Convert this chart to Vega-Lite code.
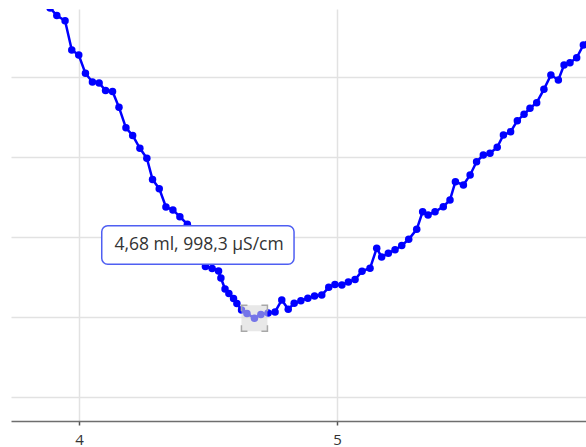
{
  "$schema": "https://vega.github.io/schema/vega-lite/v6.json",
  "autosize": {"type": "none"},
  "padding": {"left": 11, "top": 9, "right": 0, "bottom": 26},
  "width": 575,
  "height": 412,
  "background": "white",
  "config": {
    "view": {"stroke": null},
    "font": "Open Sans"
  },
  "datasets": {
    "titration": [
      {"ml": 3.888, "us": 1386.3},
      {"ml": 3.914, "us": 1376.9},
      {"ml": 3.946, "us": 1370.4},
      {"ml": 3.972, "us": 1333.8},
      {"ml": 3.999, "us": 1327.5},
      {"ml": 4.025, "us": 1304.6},
      {"ml": 4.052, "us": 1293.8},
      {"ml": 4.078, "us": 1292.5},
      {"ml": 4.103, "us": 1283.1},
      {"ml": 4.130, "us": 1281.9},
      {"ml": 4.155, "us": 1262.1},
      {"ml": 4.182, "us": 1236.5},
      {"ml": 4.208, "us": 1226.9},
      {"ml": 4.236, "us": 1210.9},
      {"ml": 4.263, "us": 1198.4},
      {"ml": 4.285, "us": 1171.9},
      {"ml": 4.311, "us": 1160.4},
      {"ml": 4.337, "us": 1137.5},
      {"ml": 4.364, "us": 1133.8},
      {"ml": 4.391, "us": 1125.4},
      {"ml": 4.420, "us": 1115.9},
      {"ml": 4.446, "us": 1098.8},
      {"ml": 4.469, "us": 1077.5},
      {"ml": 4.490, "us": 1063.1},
      {"ml": 4.516, "us": 1060.6},
      {"ml": 4.541, "us": 1057.5},
      {"ml": 4.550, "us": 1048.8},
      {"ml": 4.566, "us": 1035.0},
      {"ml": 4.581, "us": 1029.4},
      {"ml": 4.599, "us": 1023.1},
      {"ml": 4.612, "us": 1016.9},
      {"ml": 4.630, "us": 1008.8},
      {"ml": 4.651, "us": 1004.4},
      {"ml": 4.680, "us": 998.3},
      {"ml": 4.705, "us": 1003.1},
      {"ml": 4.733, "us": 1005.0},
      {"ml": 4.760, "us": 1006.3},
      {"ml": 4.786, "us": 1021.3},
      {"ml": 4.811, "us": 1009.6},
      {"ml": 4.834, "us": 1017.1},
      {"ml": 4.860, "us": 1020.4},
      {"ml": 4.887, "us": 1023.4},
      {"ml": 4.913, "us": 1026.3},
      {"ml": 4.941, "us": 1027.5},
      {"ml": 4.968, "us": 1037.1},
      {"ml": 4.992, "us": 1040.6},
      {"ml": 5.019, "us": 1040.0},
      {"ml": 5.044, "us": 1043.8},
      {"ml": 5.070, "us": 1046.9},
      {"ml": 5.097, "us": 1057.3},
      {"ml": 5.128, "us": 1060.9},
      {"ml": 5.154, "us": 1085.9},
      {"ml": 5.173, "us": 1075.0},
      {"ml": 5.199, "us": 1079.6},
      {"ml": 5.225, "us": 1084.1},
      {"ml": 5.251, "us": 1089.4},
      {"ml": 5.278, "us": 1097.1},
      {"ml": 5.309, "us": 1109.6},
      {"ml": 5.332, "us": 1131.6},
      {"ml": 5.353, "us": 1127.5},
      {"ml": 5.380, "us": 1131.6},
      {"ml": 5.412, "us": 1137.9},
      {"ml": 5.438, "us": 1146.3},
      {"ml": 5.459, "us": 1169.1},
      {"ml": 5.490, "us": 1165.0},
      {"ml": 5.516, "us": 1177.5},
      {"ml": 5.541, "us": 1194.1},
      {"ml": 5.567, "us": 1202.5},
      {"ml": 5.593, "us": 1204.6},
      {"ml": 5.621, "us": 1212.1},
      {"ml": 5.645, "us": 1227.5},
      {"ml": 5.673, "us": 1231.6},
      {"ml": 5.699, "us": 1245.4},
      {"ml": 5.725, "us": 1253.4},
      {"ml": 5.748, "us": 1260.9},
      {"ml": 5.774, "us": 1267.9},
      {"ml": 5.802, "us": 1284.6},
      {"ml": 5.829, "us": 1302.5},
      {"ml": 5.858, "us": 1296.3},
      {"ml": 5.880, "us": 1315.0},
      {"ml": 5.903, "us": 1317.9},
      {"ml": 5.929, "us": 1324.1},
      {"ml": 5.955, "us": 1340.0},
      {"ml": 5.981, "us": 1348.8}
    ],
    "selected": [
      {"ml": 4.68, "us": 998.3, "label": "4,68 ml, 998,3 µS/cm"}
    ]
  },
  "encoding": {
    "x": {
      "field": "ml",
      "type": "quantitative",
      "scale": {"domain": [3.73643, 5.96512], "nice": false, "zero": false},
      "axis": {
        "title": null,
        "values": [4, 5],
        "format": "d",
        "grid": true,
        "gridColor": "#e2e2e2",
        "gridWidth": 1.5,
        "domainColor": "#6e6e6e",
        "domainWidth": 1.5,
        "tickColor": "#555555",
        "tickWidth": 1.5,
        "tickSize": 4,
        "labelPadding": 7,
        "labelFontSize": 15,
        "labelColor": "#333333",
        "labelFont": "Open Sans"
      }
    },
    "y": {
      "field": "us",
      "type": "quantitative",
      "scale": {"domain": [870, 1385], "nice": false, "zero": false},
      "axis": {
        "title": null,
        "values": [900, 1000, 1100, 1200, 1300],
        "grid": true,
        "gridColor": "#e2e2e2",
        "gridWidth": 1.5,
        "domain": false,
        "ticks": false,
        "labels": false
      }
    }
  },
  "layer": [
    {
      "data": {"name": "titration"},
      "mark": {
        "type": "line",
        "color": "#0000ff",
        "strokeWidth": 2.5,
        "clip": true,
        "point": {"filled": true, "size": 56, "color": "#0000ff"}
      }
    },
    {
      "data": {"name": "selected"},
      "mark": {
        "type": "rect",
        "fill": "#d6d6d6",
        "fillOpacity": 0.55,
        "stroke": "#a8a8a8",
        "strokeWidth": 1.5,
        "strokeDash": [12, 14],
        "strokeDashOffset": 6,
        "xOffset": -13,
        "x2Offset": 13,
        "yOffset": -13,
        "y2Offset": 13
      },
      "encoding": {
        "x2": {"field": "ml"},
        "y2": {"field": "us"}
      }
    },
    {
      "data": {"name": "selected"},
      "mark": {
        "type": "rect",
        "fill": "white",
        "stroke": "#4f5ff2",
        "strokeWidth": 1.5,
        "cornerRadius": 6,
        "xOffset": -152.7,
        "x2Offset": 39.6,
        "yOffset": -92.7,
        "y2Offset": -54.1
      },
      "encoding": {
        "x2": {"field": "ml"},
        "y2": {"field": "us"}
      }
    },
    {
      "data": {"name": "selected"},
      "mark": {
        "type": "text",
        "font": "Open Sans",
        "fontSize": 17.5,
        "color": "#333333",
        "align": "center",
        "baseline": "middle",
        "dx": -55.4,
        "dy": -72.9
      },
      "encoding": {
        "text": {"field": "label"}
      }
    }
  ]
}
